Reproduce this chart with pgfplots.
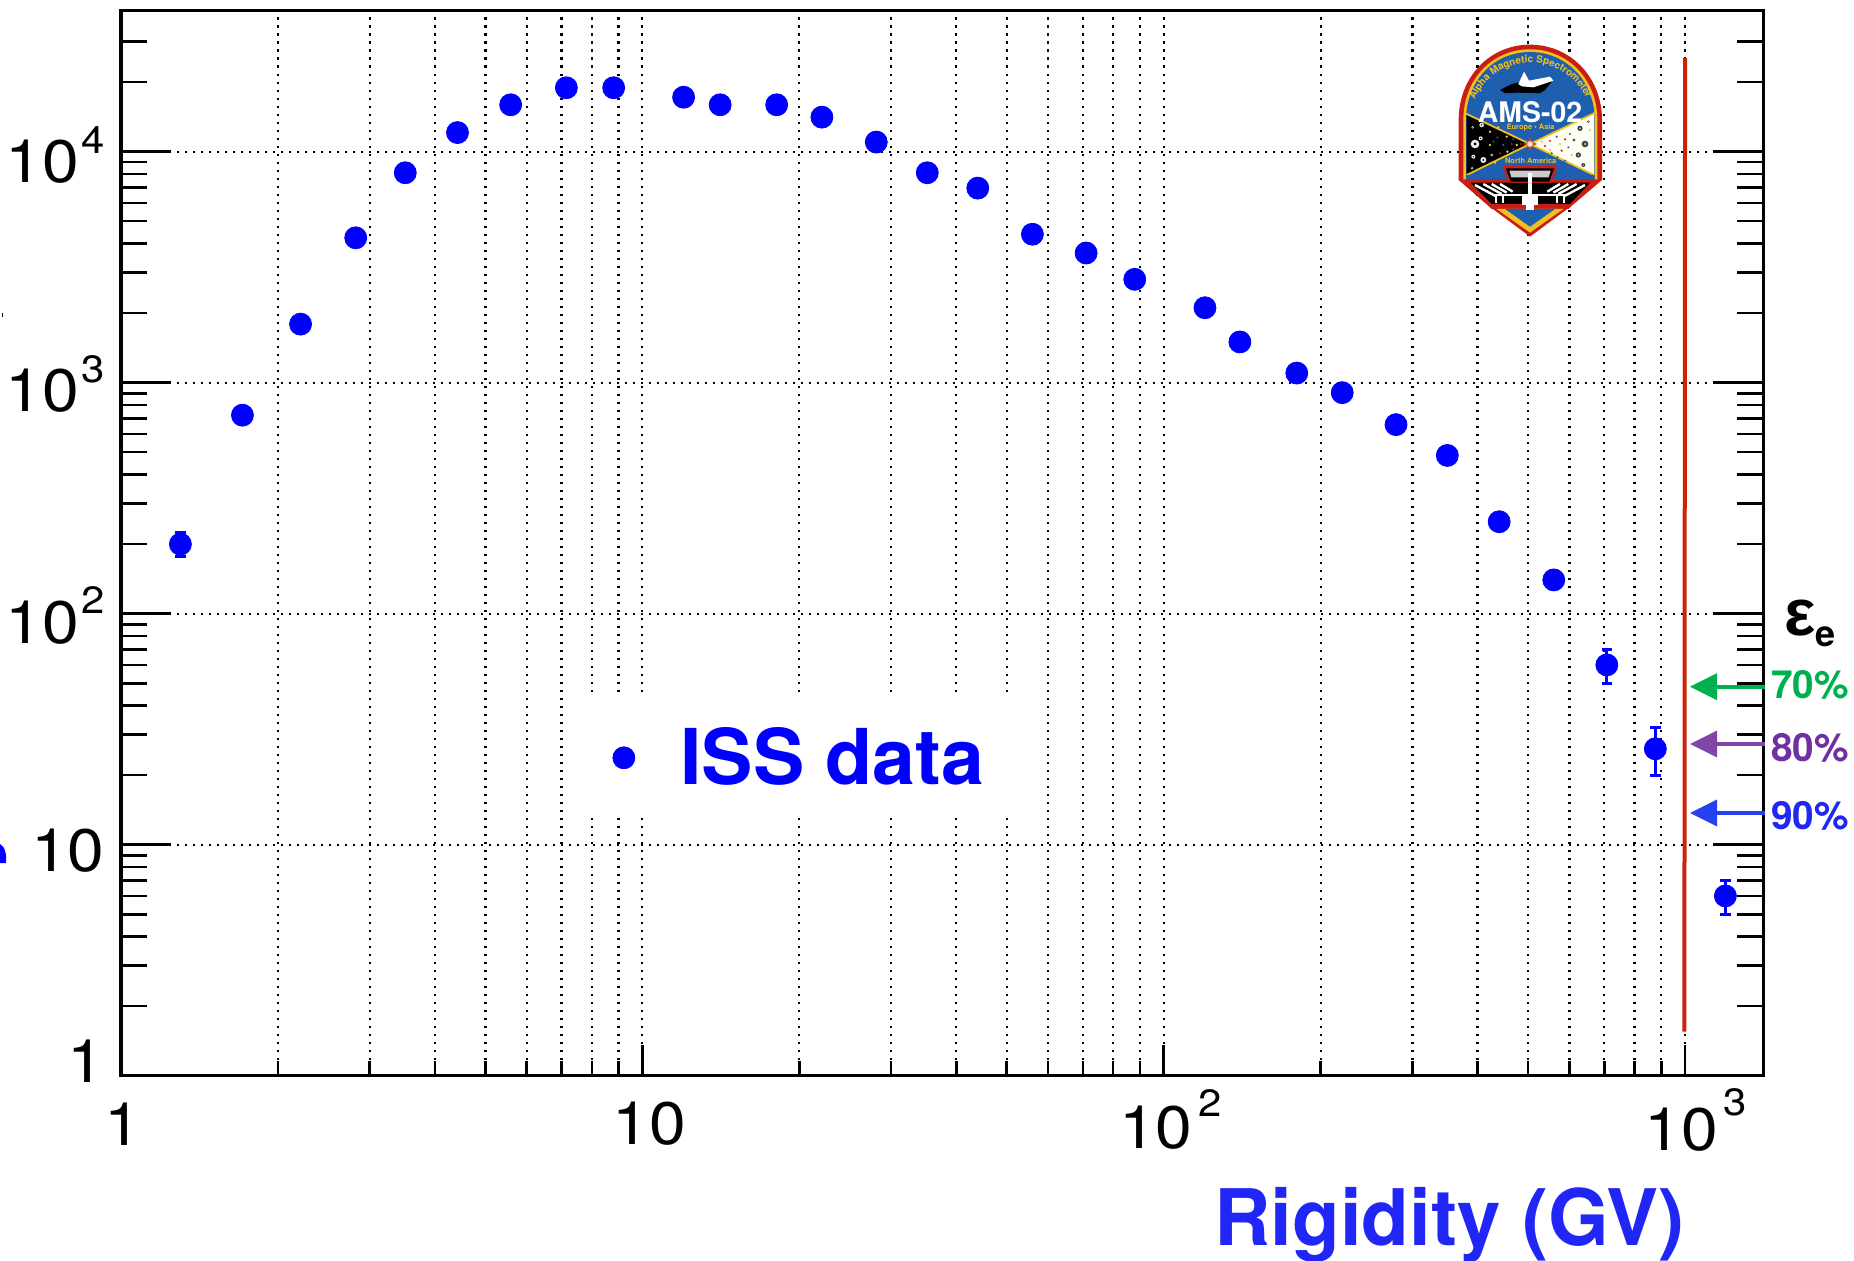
\documentclass[border=0pt]{standalone}
\usepackage{fontspec}
\setmainfont{TeX Gyre Heros}
\newfontfamily\lib{Liberation Sans}
\usepackage{pgfplots}
\pgfplotsset{compat=1.18}
\usetikzlibrary{decorations.text}
\definecolor{rigblue}{HTML}{1F26F5}
\definecolor{agreen}{HTML}{00B050}
\definecolor{apurple}{HTML}{7F45A8}
\definecolor{tpurple}{HTML}{7030A0}
\definecolor{ablue}{HTML}{2640F0}
\definecolor{redl}{HTML}{CC2208}
\definecolor{lred}{HTML}{C81E14}
\definecolor{lyel}{HTML}{F2C01E}
\definecolor{lblu}{HTML}{1F5FAF}
\definecolor{ldark}{HTML}{0A2A6A}
\newcommand\tkl[3]{\raisebox{#2}{\kern#1\relax\scalebox{1.1}[1]{#3}}}
\newcommand\powl[3]{10\kern#1\raisebox{#2}{\fontsize{19}{19}\selectfont #3}}
\pgfplotstableread{
x y ep em
1.30 200 25 23
1.71 723 0 0
2.21 1792 0 0
2.82 4236 0 0
3.51 8100 0 0
4.42 12090 0 0
5.59 15950 0 0
7.15 18900 0 0
8.81 18900 0 0
12.0 17200 0 0
14.1 15950 0 0
18.1 15950 0 0
22.1 14100 0 0
28.1 11000 0 0
35.2 8100 0 0
44 6950 0 0
56 4390 0 0
71 3640 0 0
88 2800 0 0
120 2110 0 0
140 1500 0 0
180 1100 0 0
220 905 0 0
279 658 0 0
350 484 0 0
440 250 0 0
560 140 0 0
708 60 10 10
877 26 6 6
1195 6 1 1
}\datatable
\pgfplotsset{amsframe/.style={
  xmin=1,xmax=1413,ymin=1,ymax=40738,
  width=821.15pt,height=532.5pt,scale only axis,
  at={(60.5pt,-537.85pt)},anchor=south west,
  axis line style={line width=1.5pt},
  tick align=inside,
  major tick style={black,line width=1.3pt},
  minor tick style={black,line width=1.3pt},
  grid style={black,line width=1.1pt,dash pattern=on 1.1pt off 2.9pt},
  minor grid style={black,line width=1.1pt,dash pattern=on 1.1pt off 2.9pt},
}}
\begin{document}
\begin{tikzpicture}
\path[use as bounding box] (0,0) rectangle (927pt,-630.5pt);
% y ticks and horizontal grid
\begin{loglogaxis}[amsframe,
  xtick=\empty,
  ytick={1,10,100,1000,10000},
  minor ytick={2,3,4,5,6,7,8,9,20,30,40,50,60,70,80,90,200,300,400,500,600,700,800,900,2000,3000,4000,5000,6000,7000,8000,9000,20000,30000},
  ytick pos=both,
  major tick length=25pt,minor tick length=13pt,
  ymajorgrids=true,
  yticklabels={\tkl{0pt}{-3.5pt}{1},\tkl{0pt}{-13.5pt}{10},\tkl{0pt}{-15pt}{\powl{1pt}{15pt}{2}},\tkl{0pt}{-14.5pt}{\powl{1pt}{14.5pt}{3}},\tkl{0pt}{-15.5pt}{\powl{1pt}{14.5pt}{4}}},
  yticklabel style={anchor=base east,inner sep=0pt,xshift=-8pt,font=\fontsize{30}{30}\selectfont},
]
\end{loglogaxis}
% x ticks, vertical grid, data
\begin{loglogaxis}[amsframe,
  ytick=\empty,
  xtick={1,10,100,1000},
  minor xtick={2,3,4,5,6,7,8,9,20,30,40,50,60,70,80,90,200,300,400,500,600,700,800,900},
  xtick pos=bottom,
  major tick length=15.5pt,minor tick length=7.5pt,
  xmajorgrids=true,xminorgrids=true,
  xticklabels={\tkl{-8.5pt}{-34.65pt}{1},\tkl{-15pt}{-34.15pt}{10},\tkl{-22.5pt}{-36.15pt}{10\kern2.5pt\raisebox{16pt}{\fontsize{19}{19}\selectfont 2}},\tkl{-20.5pt}{-37.15pt}{10\kern2.5pt\raisebox{17.5pt}{\fontsize{19}{19}\selectfont 3}}},
  xticklabel style={anchor=base west,inner sep=0pt,font=\fontsize{30}{30}\selectfont},
  xlabel={Rigidity (GV)},
  xlabel style={at={(axis description cs:0.6655,-0.159)},anchor=base west,inner sep=0pt,font=\fontsize{39}{39}\selectfont\bfseries,text=rigblue},
  legend style={at={(axis description cs:0.2956,0.2985)},anchor=west,draw=none,fill=none,font=\fontsize{38.5}{39}\selectfont\bfseries,text=blue,nodes={inner sep=0pt},/tikz/every odd column/.append style={column sep=22.8pt}},
  legend image post style={mark size=5.5pt},
]
\fill[white] (rel axis cs:0.2722,0.2429) rectangle (rel axis cs:0.5595,0.3556);
\addplot[forget plot,color=redl,line width=2pt] coordinates {(1000,25450) (997,1.55)};
\addplot[only marks,mark=*,mark size=5.5pt,color=blue,
  error bars/.cd,y dir=both,y explicit,
  error bar style={line width=1.5pt,blue},
  error mark options={rotate=90,mark size=2.6pt,line width=1.5pt,blue}]
  table[x=x,y=y,y error plus=ep,y error minus=em] {\datatable};
\addlegendentry{ISS data}
\end{loglogaxis}
% annotations in reference pixels
\begin{scope}[x=0.5pt,y=-0.5pt]
\fill[blue] (0,844) .. controls (5,846) and (7,856) .. (6,863) -- (0,863) -- cycle;
\fill[black] (2,313) rectangle (3,317);
\foreach \yy/\cc in {686.7/agreen,744/apurple,813/ablue}{
  \draw[\cc,line width=2pt] (1765,\yy) -- (1705,\yy);
  \fill[\cc] (1690,\yy) -- (1717,\yy-13.5) -- (1717,\yy+13.5) -- cycle;
}
\node[anchor=base west,inner sep=0pt,text=agreen,font=\fontsize{19.4}{20}\selectfont\bfseries] at (1771,699) {70\%};
\node[anchor=base west,inner sep=0pt,text=tpurple,font=\fontsize{19.4}{20}\selectfont\bfseries] at (1771,762) {80\%};
\node[anchor=base west,inner sep=0pt,text=rigblue,font=\fontsize{19.4}{20}\selectfont\bfseries] at (1771,829) {90\%};
\node[anchor=base west,inner sep=0pt,font=\fontsize{33}{33}\selectfont\bfseries] at (1784,636) {\lib ε};
\node[anchor=base west,inner sep=0pt,font=\fontsize{18}{18}\selectfont\bfseries] at (1815,647) {e};
\end{scope}
% logo
\begin{scope}[shift={(725pt,-20pt)},x=0.16667pt,y=-0.16667pt]
\fill[lred] (26,420) -- (26,240) .. controls (26,110) and (120,14) .. (240,14) .. controls (360,14) and (456,110) .. (456,240) -- (456,420) -- (365,497) -- (240,590) -- (115,497) -- cycle;
\fill[lyel] (40,420) -- (40,240) .. controls (40,120) and (125,28) .. (240,28) .. controls (355,28) and (442,120) .. (442,240) -- (442,420) -- cycle;
\fill[lblu] (48,420) -- (48,240) .. controls (48,125) and (130,36) .. (240,36) .. controls (350,36) and (434,125) .. (434,240) -- (434,420) -- cycle;
\fill[black] (50,222) -- (240,312) -- (50,405) -- cycle;
\fill[white!96!yellow] (432,222) -- (240,312) -- (432,405) -- cycle;
\draw[lyel,line width=0.9pt] (46,220) -- (240,312) -- (46,407);
\draw[lyel,line width=0.9pt] (436,218) -- (240,312) -- (436,407);
\foreach \a/\b/\r in {75/312/13,95/255/7,68/262/4,100/360/9,70/350/6,66/385/4,92/295/6,125/345/4,120/275/4}{\fill[white!85!gray] (\a,\b) circle[radius=\r];\fill[black] (\a,\b) circle[radius=\r*0.35];}
\foreach \a/\b in {120/315,170/290,172/335,200/315,145/262,135/368}{\fill[lyel] (\a,\b) circle[radius=4];}
\foreach \a/\b in {142/292,150/340,185/312,212/312}{\fill[lred] (\a,\b) circle[radius=3.5];}
\foreach \a/\b in {130/305,160/315,190/298,190/328}{\fill[lblu] (\a,\b) circle[radius=3.5];}
\foreach \a/\b/\r in {390/265/8,405/312/10,385/345/8,400/375/6,415/245/4,372/300/5}{\fill[black!75] (\a,\b) circle[radius=\r];\fill[white] (\a,\b) circle[radius=\r*0.3];}
\foreach \a/\b in {300/303,345/298,335/332,285/318,322/352}{\fill[lred] (\a,\b) circle[radius=3.5];}
\foreach \a/\b in {320/290,305/340,360/282,355/322,345/362}{\fill[lblu] (\a,\b) circle[radius=3.5];}
\foreach \a/\b in {275/305,330/312,300/330,365/345,420/270}{\fill[lyel] (\a,\b) circle[radius=3.5];}
\fill[lred!70!orange] (240,292) -- (246,306) -- (262,312) -- (246,318) -- (240,332) -- (234,318) -- (218,312) -- (234,306) -- cycle;
\fill[orange!40!white] (240,312) circle[radius=9];
\fill[white] (240,312) circle[radius=5];
% lower band
\fill[lred] (26,418) -- (456,418) -- (365,497) -- (355,507) -- (125,507) -- (115,497) -- cycle;
\fill[black] (62,428) -- (420,428) -- (360,492) -- (125,492) -- cycle;
\fill[lyel] (140,507) -- (240,578) -- (340,507) -- cycle;
\fill[lblu] (165,507) -- (240,560) -- (315,507) -- cycle;
\fill[lred] (158,378) -- (322,378) -- (305,428) -- (175,428) -- cycle;
\fill[black] (168,385) -- (312,385) -- (298,425) -- (182,425) -- cycle;
\fill[gray!40] (178,392) -- (302,392) -- (296,412) -- (184,412) -- cycle;
\fill[lblu] (48,405) -- (164,405) -- (158,418) -- (48,418) -- cycle;
\fill[lblu] (322,405) -- (434,405) -- (434,418) -- (316,418) -- cycle;
\foreach \a/\b/\c/\d in {75/435/140/470,100/432/155/462,125/432/170/458,150/432/188/455,405/435/340/470,380/432/325/462,355/432/310/458,330/432/292/455}{\draw[white,line width=1.2pt] (\a,\b) -- (\c,\d);}
\draw[white,line width=1.3pt] (130,465) -- (350,465);
\draw[white,line width=2pt] (240,398) -- (240,480);
\fill[white] (215,462) rectangle (265,495);
\fill[white] (228,495) rectangle (252,510);
\foreach \a in {138,160,320,342}{\draw[white,line width=1pt] (\a,465) -- (\a,490);}
% shuttle
\fill[black] (150,150) -- (185,132) -- (215,125) -- (290,120) -- (305,125) -- (285,150) -- (270,160) -- (200,158) -- (165,160) -- cycle;
\fill[white] (205,132) -- (222,95) -- (237,122) -- (300,110) -- (310,122) -- (250,142) -- (215,139) -- cycle;
% text
\node[text=white,inner sep=0pt,font=\fontsize{14.2}{14}\selectfont\bfseries] at (240,215) {AMS-02};
\node[text=lyel,font=\fontsize{3.7}{4}\selectfont\bfseries,inner sep=0pt] at (242,263) {Europe • Asia};
\node[text=lyel,font=\fontsize{3.7}{4}\selectfont\bfseries,inner sep=0pt] at (242,363) {North America};
\path[decorate,decoration={text along path,text align=center,text={|\fontsize{5}{5}\selectfont\bfseries\color{lyel}|Alpha Magnetic Spectrometer}}]
 (66,200) .. controls (98,105) and (175,68) .. (240,68) .. controls (305,68) and (385,105) .. (418,195);
\end{scope}
\end{tikzpicture}
\end{document}
